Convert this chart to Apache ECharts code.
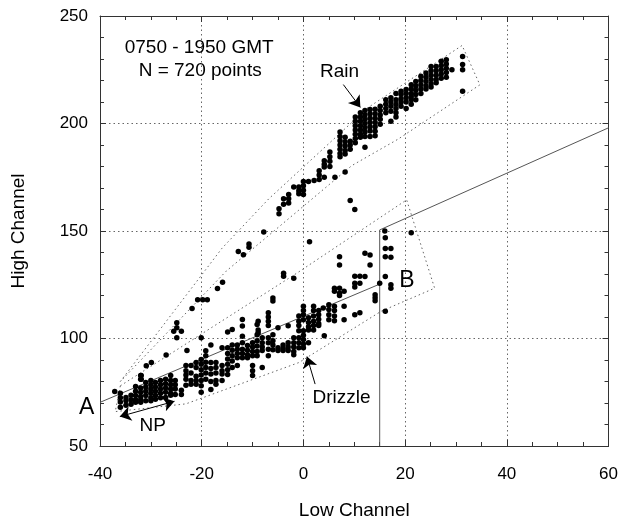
<!DOCTYPE html>
<html><head><meta charset="utf-8">
<script src="https://cdn.jsdelivr.net/npm/echarts@6/dist/echarts.min.js"></script>
<style>html,body{margin:0;padding:0;background:#fff}#c{width:621px;height:525px}</style>
</head><body><div id="c"></div>
<script>
// ---- data ----
const xRange = [-40, 60];
const yRange = [50, 250];

// Rain cluster: [x, [y values stacked at that x]]
const rainCols = [
  [-4.8,[160.4,158]], [-3.9,[165,162.5]], [-2.9,[167,165,163]], [-1.9,[170.5]],
  [-0.9,[170.5,168.7,167.3]], [0,[173,171,169,167]], [1,[173]], [2.1,[173.5]],
  [3.1,[178,176,174]], [4.1,[182.7,181,179.8,175]], [5.2,[186.7,184.5,182.5,180]],
  [6.2,[175]], [7.2,[196,194,192,190,188,186,184.5]], [8.2,[193.6,191.5,189.5,187.5,185.8,177.5]],
  [9.2,[191.8,190,188]], [10.2,[203,201,199,197,195,193,191]], [11.2,[205,203,201,199,197,195,193.6]],
  [12.1,[206,204,202,200,198,196,194,189]], [13.1,[206.5,204.5,202.5,200.5,198.5,196.5,194]],
  [14.1,[206.6,204.5,202.5,200.5,198.5,196.4,194.3]], [15.1,[208,206,204,202,199.6]],
  [16.2,[211,209,207,205]], [17.2,[212,210,208,205.7,201]], [18.2,[214,211,209,207,205,203]],
  [19.2,[215,213.5,211.5,210,208]], [20.2,[215.8,214,212,210,207]], [21.2,[218,216,214,212.5,211,209]],
  [22.1,[219.5,217.5,215.5,213.5,211]], [23.1,[222,220,218,216,214]], [24.1,[223.5,221.5,219.5,217.5,216]],
  [25.1,[226.5,224.5,222.5,220.5,218.5,217]], [26.1,[226.5,224.5,222.5,220.5,219]],
  [27.1,[229,227,225,223,221]], [28.1,[229.7,227.7,225.7,223.7,221.5]], [29.2,[225]],
  [31.3,[231.2,227.4,225,215]]
];

// Drizzle / NP cluster
const drizzleCols = [
  [-37.1,[75.4]], [-36,[74.5,72.5,70.5,68]], [-34.9,[72.6,71,69]], [-33.9,[73.6,71.5,69.4]],
  [-33,[77.7,75.5,73.5,71.5,70.3]], [-32,[82.8,81,77,75,73,71.5,70.3]], [-31,[79.5,77.5,75.5,73.5,71]],
  [-30,[80.5,78.5,76.5,74.5,72.5,71]], [-29.1,[79.5,77.5,75.5,73.5,71.7]], [-28.1,[80.5,78.5,76.5,74.5,72.5]],
  [-27.1,[81,79,77,75,72.6]], [-26.1,[82.8,80.5,78.5,76.5,74.5,73.6]], [-25.2,[80.5,78.5,76.5,74]],
  [-24,[75.9,74]], [-23.1,[87.4,85,83,81,78.2]], [-22.9,[94.4]], [-22.1,[87.4,84,80.5,78.7]],
  [-21.1,[88.8,86.5,82.5,80.5,78.7]], [-20.1,[100.4,90.2,88,85.5,83,80.5,78,75]],
  [-19.2,[94.3,92,89,86.5,84,81]], [-18.2,[97,88.8,86,83.5,80,76.3]], [-17.2,[88.8,86.5,84,80.5,78.7]],
  [-16,[95.7,87.4,85,83.5,80.5]], [-14.9,[103,95.7,93,90.5,88,85.5,83.3]], [-14,[104.2,97,94.5,92,89.5,86.5]],
  [-13,[97,95,93,91,87.4]], [-12,[108.8,105.8,101,98,95,93,91]], [-11,[96.7,94.5,92.5,91]],
  [-10,[98,96,94,92,87.4,85,82.8]], [-9.1,[106.5,101.7,99,96.5,94,92]], [-8.9,[108,104,102.7]],
  [-8.1,[100.4,98,96,94.4,86.5]], [-6.9,[112,110,108,106,100.4,98,95,92]], [-6,[101.7,99,97,94.8]],
  [-5,[105,95.7,94.4]], [-4,[97,95.5,94.4]], [-3,[105.9,98,96,94.4]], [-1.9,[100.4,98,96,94,92.5]],
  [-0.9,[110.5,108,106,103.6,100.4,98,95.7]], [0,[115,113,111,108.7,103.6,101.5,99.5,97.5,95.7]],
  [1,[109.6,107.5,105.5,104,98]], [2,[115,113,110.5,108,106,104]], [3,[113,111,109,107,106]],
  [3.9,[114.2]], [4.1,[101.3]], [5,[115.7,113.5,111,108.7]], [6.1,[123.4,122,115,113,110.5,108.3]],
  [7.1,[138,134.2,123.4,121,120]], [8,[122,115,108.7]], [10.1,[129,125.7,124,111]],
  [11.1,[129,125.7,112]], [12.1,[139.6,128.8]], [13.1,[138.8,134.2]], [14.1,[120.3,119,117.6]],
  [15,[125.7]], [16.1,[141.9,138,128.8,112.7]], [17.2,[141.9,137.8,125,123.4]]
];

// Isolated points between the clusters
const strayPoints = [
  [9.2,164.2],[10.1,160],[16,150],[16.1,146.9],[21.2,149.2],[1.2,145],[-3.9,130.4],[-3.9,129],
  [-1.9,128],[-7.8,149.5],[-10.7,144],[-10.7,142.5],[-12.8,140.5],[-11.8,139],[-15.9,126.2],
  [-16.9,123.2],[-20.8,118],[-19.8,118],[-18.9,118],[-21.9,114],[-24.9,107.3],[-24.9,105],
  [-25.5,103.4],[-24,103.4],[-24.9,100.4],[-27,92.3],[-30.9,87.3],[-29.9,88.8],[-6,118.8],[-6,117.4],
  [-31.9,82.8],[-31.9,81]
];

// Dotted envelopes (vertices)
const rainEnvelope = [[-36,80],[-16,142],[-6.8,165],[12.7,207.4],[31.2,236.3],[34.7,218],[18.6,192.7],[9.5,180.4],[-15.2,131.3],[-36,80]];
const drizzleEnvelope = [[-36,78],[-0.9,131],[20.3,164.5],[25.8,123.4],[15.3,112.7],[-0.9,88.8],[-23.1,69.6],[-37,66],[-36,78]];

// Solid lines
const lineAB = [[-40,70.3],[15,125.3]];
const lineUpper = [[15,50],[15,150.5],[60,198]];

// Annotations (data coords)
const texts = [
  {t:'0750 - 1950 GMT', x:-20.5, y:235, size:19},
  {t:'N = 720 points', x:-20.3, y:224.4, size:19},
  {t:'Rain', x:7.1, y:223.9, size:19},
  {t:'B', x:20.35, y:126.7, size:23},
  {t:'Drizzle', x:7.5, y:72.4, size:19},
  {t:'A', x:-42.6, y:67.8, size:23},
  {t:'NP', x:-29.65, y:59.2, size:19}
];
const arrowRain = [[7.85,218.1],[11.2,207.5]];
const arrowDrizzle = [[2.3,78.8],[0.7,91.6]];
const arrowNP = [[-36.1,63.7],[-25.35,70.8]];

// ---- build ----
function flat(cols){const o=[];cols.forEach(c=>c[1].forEach(y=>o.push([c[0],y])));return o;}
const FONT = '"Liberation Sans", Arial, Helvetica, sans-serif';
const chart = echarts.init(document.getElementById('c'), null, {renderer:'canvas'});
const dotted = {type:[1.5,3], color:'#666', width:1};
const axisCommon = {
  type:'value', axisLine:{show:true,onZero:false,lineStyle:{color:'#333',width:1}},
  axisTick:{show:true,inside:true,length:6,lineStyle:{color:'#333'}},
  minorTick:{show:true,length:4,lineStyle:{color:'#333'}}
};
chart.setOption({
  animation:false,
  backgroundColor:'#fff',
  grid:{left:100, top:16, right:8.5, bottom:76},
  xAxis:[
    Object.assign({}, axisCommon, {min:xRange[0],max:xRange[1],interval:20,position:'bottom',
      minorTick:Object.assign({}, axisCommon.minorTick,{splitNumber:4}),
      splitLine:{show:true,lineStyle:dotted},
      axisLabel:{fontSize:17,color:'#000',fontFamily:FONT,margin:20},
      name:'Low Channel', nameLocation:'middle', nameGap:55,
      nameTextStyle:{fontSize:19,color:'#000',fontFamily:FONT}}),
    Object.assign({}, axisCommon, {min:xRange[0],max:xRange[1],interval:20,position:'top',
      minorTick:Object.assign({}, axisCommon.minorTick,{splitNumber:4}),
      splitLine:{show:false}, axisLabel:{show:false}})
  ],
  yAxis:[
    Object.assign({}, axisCommon, {min:yRange[0],max:yRange[1],interval:50,position:'left',
      minorTick:Object.assign({}, axisCommon.minorTick,{splitNumber:5}),
      splitLine:{show:true,lineStyle:dotted},
      axisLabel:{fontSize:17,color:'#000',fontFamily:FONT,margin:12},
      name:'High Channel', nameLocation:'middle', nameGap:72,
      nameTextStyle:{fontSize:19,color:'#000',fontFamily:FONT}}),
    Object.assign({}, axisCommon, {min:yRange[0],max:yRange[1],interval:50,position:'right',
      minorTick:Object.assign({}, axisCommon.minorTick,{splitNumber:5}),
      splitLine:{show:false}, axisLabel:{show:false}})
  ],
  series:[
    {type:'line', data:rainEnvelope, symbol:'none', lineStyle:dotted, z:1, silent:true},
    {type:'line', data:drizzleEnvelope, symbol:'none', lineStyle:dotted, z:1, silent:true},
    {type:'line', data:lineAB, symbol:'none', lineStyle:{color:'#555',width:1}, z:2},
    {type:'line', data:lineUpper, symbol:'none', lineStyle:{color:'#555',width:1}, z:2},
    {type:'scatter', data:flat(rainCols), symbolSize:5.5, itemStyle:{color:'#000',opacity:1}, z:3},
    {type:'scatter', data:flat(drizzleCols), symbolSize:5.5, itemStyle:{color:'#000',opacity:1}, z:3},
    {type:'scatter', data:strayPoints, symbolSize:5.5, itemStyle:{color:'#000',opacity:1}, z:3},
    {type:'lines', coordinateSystem:'cartesian2d', polyline:false,
      data:[{coords:arrowRain},{coords:arrowDrizzle}], symbol:['none','arrow'], symbolSize:[1,11],
      lineStyle:{color:'#000',width:1,opacity:1}, itemStyle:{color:'#000'}, z:4},
    {type:'lines', coordinateSystem:'cartesian2d', polyline:false,
      data:[{coords:arrowNP}], symbol:['arrow','arrow'], symbolSize:11,
      lineStyle:{color:'#000',width:1,opacity:1}, z:4}
  ]
});
const g = texts.map(a=>{
  const p = chart.convertToPixel({xAxisIndex:0,yAxisIndex:0},[a.x,a.y]);
  return {type:'text', x:p[0], y:p[1], z:10, style:{text:a.t, fontSize:a.size, fontFamily:FONT, fill:'#000', align:'center', verticalAlign:'middle'}};
});
chart.setOption({graphic:g});
</script></body></html>
